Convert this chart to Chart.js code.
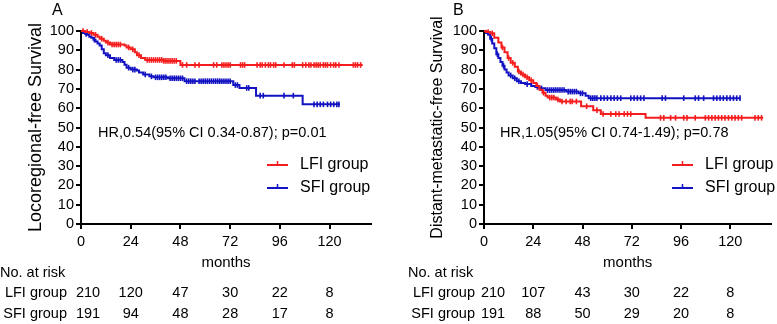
<!DOCTYPE html>
<html><head><meta charset="utf-8">
<script src="https://cdn.jsdelivr.net/npm/chart.js@4.4.1/dist/chart.umd.min.js"></script>
<style>
html,body{margin:0;padding:0;background:#fff;width:777px;height:324px;overflow:hidden}
.p{position:absolute;top:0}
</style></head><body>
<div class="p" style="left:0"><canvas id="cA" width="388" height="324"></canvas></div>
<div class="p" style="left:388px"><canvas id="cB" width="389" height="324"></canvas></div>
<script>
// ---------- data ----------
const xTicks = [0, 24, 48, 72, 96, 120];
const groupNames = ['LFI group', 'SFI group'];
const riskLabel = 'No. at risk';
const xTitle = 'months';

// Panel A: Locoregional-free survival
const aTitle = 'Locoregional-free Survival';
const aHR = 'HR,0.54(95% CI 0.34-0.87); p=0.01';
const aLfiT = [0, 2, 4, 6, 8, 9, 11, 12, 14, 21, 22, 24, 26, 27, 29, 31, 40, 48, 136];
const aLfiS = [100, 99.5, 99, 98, 97, 96, 95, 94, 93, 92.5, 91.5, 90.5, 89, 87.5, 86, 85, 84.5, 82.4, 82.4];
const aSfiT = [0, 1, 2, 3, 4, 5, 6, 7, 8, 9, 10, 11, 12, 14, 16, 20, 21, 22, 24, 27, 28, 30, 33, 35, 42, 50, 73.5, 76.5, 84.5, 107, 125];
const aSfiS = [100, 99, 98.5, 98, 97, 96.5, 95.5, 94.5, 93.5, 92.5, 90.5, 88.5, 87.5, 86, 85, 84, 82.5, 81, 80, 79.5, 78.5, 77.5, 76.5, 76, 75.5, 74, 72, 70.5, 66.5, 62, 62];
const aLfiCens = [1, 3, 5, 7, 10, 13, 15, 16, 17, 18, 19, 23, 25, 28, 32, 33, 34, 35, 36, 37, 38, 39, 40, 41, 42, 43, 44, 45, 46, 49, 51, 55, 57, 64, 65.5, 68, 69, 70, 71, 72, 77, 78, 79, 85, 86.5, 87.5, 89, 90.5, 91.5, 93, 94, 98, 102, 103, 107, 108.5, 110, 111, 112.5, 113.5, 114.5, 115.5, 117, 118, 119, 120.5, 122, 123, 124.5, 131.5, 132.5, 133.5, 135];
const aSfiCens = [2.5, 6.5, 13, 17, 18, 19, 23, 25, 26, 31, 34, 36, 37, 38, 39, 40, 41, 43, 44, 45, 46, 47, 48, 49, 51, 52, 53, 54, 55, 57, 58, 59, 60, 61, 62, 63, 64, 65, 66, 67, 68, 69, 70, 71, 72, 74.5, 75.5, 80, 81, 86.5, 88, 98, 102.5, 112.5, 114, 115.5, 117, 119, 120.5, 122, 123.5, 124.5];
const aRiskLfi = [210, 120, 47, 30, 22, 8];
const aRiskSfi = [191, 94, 48, 28, 17, 8];

// Panel B: Distant-metastatic-free survival
const bTitle = 'Distant-metastatic-free Survival';
const bHR = 'HR,1.05(95% CI 0.74-1.49); p=0.78';
const bLfiT = [0, 1, 3, 5, 7, 8.5, 10, 11.5, 13, 15, 16.5, 18, 20, 22, 24, 25.5, 27, 28.5, 30, 31, 35, 37, 47.3, 53.2, 56.9, 78.7, 136];
const bLfiS = [100, 99.5, 98.8, 96.5, 94, 91.5, 89, 86, 83.5, 81.5, 79, 77.5, 76, 74.5, 73, 71.5, 69.5, 68, 66.5, 65.5, 64.5, 63.5, 61, 59, 57, 55, 55];
const bSfiT = [0, 1, 2, 3, 4, 5, 6, 7, 8, 9, 10, 11, 12, 14, 16, 18, 20, 23, 25, 27, 30, 40, 46, 49.5, 51, 125];
const bSfiS = [100, 99, 98, 96, 93.5, 91, 88, 86, 84, 82, 80, 78.5, 77, 75.5, 74, 73, 72.5, 71.5, 71, 70.3, 69.4, 68.6, 67.7, 66.5, 65.2, 65.2];
const bLfiCens = [2, 4, 9, 12, 14, 17, 19, 21, 23, 26, 29, 32, 33, 34, 36, 38, 40, 42, 43, 45, 50, 55, 58, 61.8, 64.2, 65.8, 68.3, 69.9, 71.5, 86, 87.6, 90.9, 93.3, 97.3, 98.9, 102.9, 107.8, 109.4, 111, 112.6, 114.2, 115.8, 117.4, 119.1, 120.7, 122.3, 123.9, 125.5, 132, 133.6, 135.2];
const bSfiCens = [3.5, 6.5, 9.5, 13, 15, 17, 21, 26, 28, 31, 32, 33, 34, 35, 36, 37, 38, 39, 41, 42, 43, 44, 45, 47, 48, 52, 53, 54, 55, 56.9, 58.5, 60.1, 61.8, 63.4, 65, 66.6, 71.5, 73.1, 74.7, 76.3, 77.9, 86.8, 88.4, 97.3, 102.9, 104.5, 107, 111.8, 113.4, 115, 116.6, 118.3, 119.9, 121.5, 123.1, 124.7];
const bRiskLfi = [210, 107, 43, 30, 22, 8];
const bRiskSfi = [191, 88, 50, 29, 20, 8];

// ---------- style ----------
const RED = '#f41c1c';
const BLUE = '#1212c2';
const FONT = '"Liberation Sans", Arial, sans-serif';

function survAt(T, S, t) {
  let v = S[0];
  for (let i = 0; i < T.length; i++) if (T[i] <= t) v = S[i];
  return v;
}
function pts(T, S) { return T.map((t, i) => ({x: t, y: S[i]})); }
function cens(T, S, C) { return C.map(t => ({x: t, y: survAt(T, S, t)})); }

function curve(data, color) {
  return {type: 'line', data, borderColor: color, borderWidth: 2, stepped: true,
    pointRadius: 0, fill: false, clip: false};
}
function ticksDs(data, color) {
  return {type: 'scatter', data, borderColor: color, backgroundColor: color,
    pointStyle: 'line', rotation: 90, pointRadius: 2.8, borderWidth: 1.6, clip: false};
}

function makePanel(id, p) {
  const plugin = {
    id: 'extra' + p.letter,
    afterDraw(chart) {
      const ctx = chart.ctx, xs = chart.scales.x;
      ctx.save();
      ctx.fillStyle = '#000';
      ctx.textBaseline = 'middle';
      ctx.textAlign = 'left';
      ctx.font = '16px ' + FONT;
      ctx.fillText(p.letter, p.letterX, 10.5);
      ctx.font = '14.5px ' + FONT;
      ctx.fillText(p.hr, p.hrX, 133);
      // legend
      const cols = [RED, BLUE];
      const ly = [165, 188];
      for (let i = 0; i < 2; i++) {
        ctx.strokeStyle = cols[i];
        ctx.lineWidth = 2;
        ctx.beginPath();
        ctx.moveTo(p.legX, ly[i]); ctx.lineTo(p.legX + 21, ly[i]);
        ctx.stroke();
        ctx.lineWidth = 1.5;
        ctx.beginPath();
        ctx.moveTo(p.legX + 10.5, ly[i] - 4); ctx.lineTo(p.legX + 10.5, ly[i]);
        ctx.stroke();
        ctx.fillStyle = '#000';
        ctx.font = '16px ' + FONT;
        ctx.fillText(groupNames[i], p.legX + 33, ly[i]);
      }
      // risk table
      ctx.font = '14.5px ' + FONT;
      ctx.textAlign = 'left';
      ctx.fillText(riskLabel, p.riskX, 273);
      ctx.textAlign = 'right';
      ctx.fillText(groupNames[0], p.rowLabelR, 293);
      ctx.fillText(groupNames[1], p.rowLabelR, 314);
      ctx.textAlign = 'center';
      const rows = [[p.riskL, 293], [p.riskS, 314]];
      rows.forEach(([vals, y]) => {
        vals.forEach((v, i) => {
          const x = xs.getPixelForValue(xTicks[i]) + (i === 0 ? p.firstOff : 0);
          ctx.fillText(String(v), x, y);
        });
      });
      ctx.restore();
    }
  };
  return new Chart(document.getElementById(id), {
    data: {
      datasets: [
        curve(pts(p.lT, p.lS), RED),
        curve(pts(p.sT, p.sS), BLUE),
        ticksDs(cens(p.lT, p.lS, p.lC), RED),
        ticksDs(cens(p.sT, p.sS, p.sC), BLUE)
      ]
    },
    options: {
      responsive: false, animation: false, devicePixelRatio: 1,
      layout: {padding: {left: 0, top: 31, right: p.padR, bottom: 52}},
      plugins: {legend: {display: false}, tooltip: {enabled: false}},
      scales: {
        x: {
          type: 'linear', min: 0, max: 140,
          afterFit: s => { s.height = 48; },
          afterBuildTicks: s => { s.ticks = xTicks.map(v => ({value: v})); },
          ticks: {color: '#000', font: {family: FONT, size: 14.5}, padding: 4, maxRotation: 0, autoSkip: false},
          grid: {drawOnChartArea: false, drawTicks: true, tickLength: 5, color: '#000', lineWidth: 2},
          border: {color: '#000', width: 2},
          title: {display: true, text: xTitle, color: '#000', font: {family: FONT, size: 15}, padding: 0}
        },
        y: {
          type: 'linear', min: 0, max: 100,
          afterFit: s => { s.width = p.yW; },
          ticks: {stepSize: 10, color: '#000', font: {family: FONT, size: 14.5}, padding: 2, autoSkip: false},
          grid: {drawOnChartArea: false, drawTicks: true, tickLength: 5, color: '#000', lineWidth: 2},
          border: {color: '#000', width: 2},
          title: {display: true, text: p.title, color: '#000', font: {family: FONT, size: p.yTitleSize}, padding: {top: p.yTitlePad, bottom: 0}}
        }
      }
    },
    plugins: [plugin]
  });
}

makePanel('cA', {
  letter: 'A', letterX: 52, hr: aHR, hrX: 98, legX: 267, riskX: 0, rowLabelR: 67, firstOff: 7,
  lT: aLfiT, lS: aLfiS, sT: aSfiT, sS: aSfiS, lC: aLfiCens, sC: aSfiCens,
  riskL: aRiskLfi, riskS: aRiskSfi, padR: 17, yW: 81, title: aTitle, yTitleSize: 18, yTitlePad: 25
});
makePanel('cB', {
  letter: 'B', letterX: 65, hr: bHR, hrX: 112, legX: 284, riskX: 20, rowLabelR: 87, firstOff: 9,
  lT: bLfiT, lS: bLfiS, sT: bSfiT, sS: bSfiS, lC: bLfiCens, sC: bSfiCens,
  riskL: bRiskLfi, riskS: bRiskSfi, padR: 2, yW: 96, title: bTitle, yTitleSize: 16, yTitlePad: 40
});
</script>
</body></html>
